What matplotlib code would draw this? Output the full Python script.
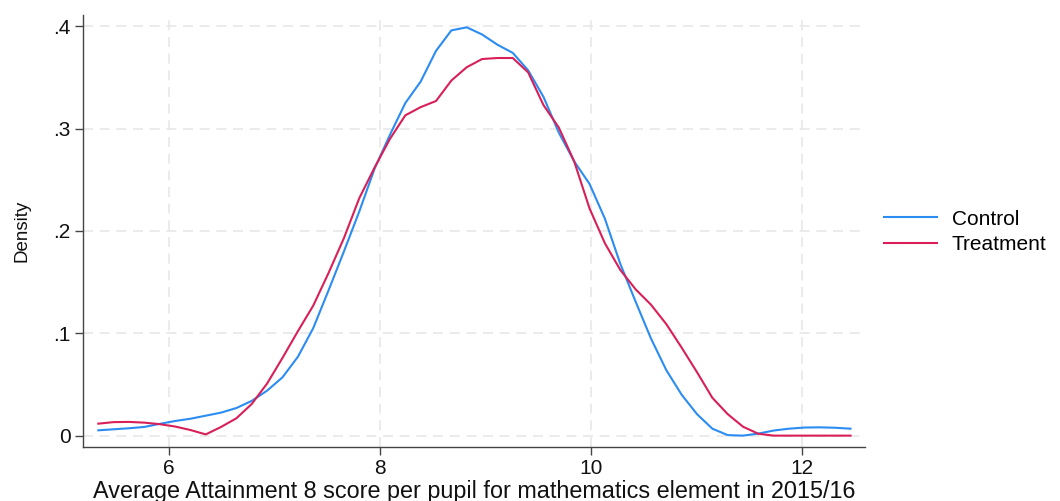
import numpy as np
import matplotlib
matplotlib.use("Agg")
import matplotlib.pyplot as plt

# evaluation grid (50 points, kdensity default)
x_start, x_end, n_pts = 5.33, 12.46, 50
grid = np.linspace(x_start, x_end, n_pts)

control = [0.0052, 0.0062, 0.0072, 0.0085, 0.0115, 0.0143, 0.0165, 0.0195, 0.0225, 0.027,
           0.034, 0.044, 0.057, 0.077, 0.105, 0.142, 0.180, 0.219, 0.261, 0.294,
           0.325, 0.346, 0.376, 0.396, 0.399, 0.392, 0.382, 0.374, 0.357, 0.331,
           0.296, 0.268, 0.246, 0.212, 0.168, 0.131, 0.095, 0.064, 0.040, 0.021,
           0.0068, 0.0005, 0.0, 0.002, 0.005, 0.0068, 0.0079, 0.0081, 0.0077, 0.0068]

treatment = [0.0117, 0.0132, 0.0134, 0.0127, 0.0112, 0.0089, 0.0055, 0.0012, 0.0085, 0.017,
             0.031, 0.051, 0.076, 0.102, 0.127, 0.159, 0.193, 0.232, 0.262, 0.290,
             0.313, 0.321, 0.327, 0.347, 0.360, 0.368, 0.369, 0.369, 0.355, 0.323,
             0.301, 0.268, 0.222, 0.188, 0.162, 0.143, 0.128, 0.109, 0.086, 0.062,
             0.037, 0.021, 0.0087, 0.0018, 0.0, 0.0, 0.0, 0.0, 0.0, 0.0]

series_names = ["Control", "Treatment"]
xticks = [6, 8, 10, 12]
yticks = [0, 0.1, 0.2, 0.3, 0.4]
ytick_labels = ["0", ".1", ".2", ".3", ".4"]
xlabel = "Average Attainment 8 score per pupil for mathematics element in 2015/16"
ylabel = "Density"

plt.rcParams['font.family'] = ['Liberation Sans', 'DejaVu Sans']

fig = plt.figure(figsize=(10.6, 5.01), dpi=100)
ax = fig.add_axes([0.0783, 0.1078, 0.816 - 0.0783, 0.970 - 0.1078])

ax.plot(grid, control, color='#2b8cf2', lw=1.5, label=series_names[0])
ax.plot(grid, treatment, color='#d91f57', lw=1.5, label=series_names[1])

ax.set_xlim(5.185, 12.597)
ax.set_ylim(-0.0111, 0.411)
ax.set_xticks(xticks)
ax.set_xticklabels([str(t) for t in xticks])
ax.set_yticks(yticks)
ax.set_yticklabels(ytick_labels)

ax.grid(True, color='#e8e8e8', linestyle=(0, (6, 4)), lw=1.2)
ax.set_axisbelow(True)
for s in ['top', 'right']:
    ax.spines[s].set_visible(False)
for s in ['left', 'bottom']:
    ax.spines[s].set_color('#444444')
    ax.spines[s].set_linewidth(1.0)

ax.tick_params(axis='both', direction='out', length=6, width=1, color='#444444',
               labelsize=15, labelcolor='#111111', pad=3)

ax.set_xlabel(xlabel, fontsize=16.8, color='#111111', labelpad=1)
ax.set_ylabel(ylabel, fontsize=13.5, color='#111111', labelpad=16)

ax.legend(loc='center left', bbox_to_anchor=(1.024, 0.498), frameon=False,
          borderaxespad=0, borderpad=0,
          fontsize=15, handlelength=2.55, handletextpad=0.72, labelspacing=0.32)

fig.savefig("out.png", dpi=100)
